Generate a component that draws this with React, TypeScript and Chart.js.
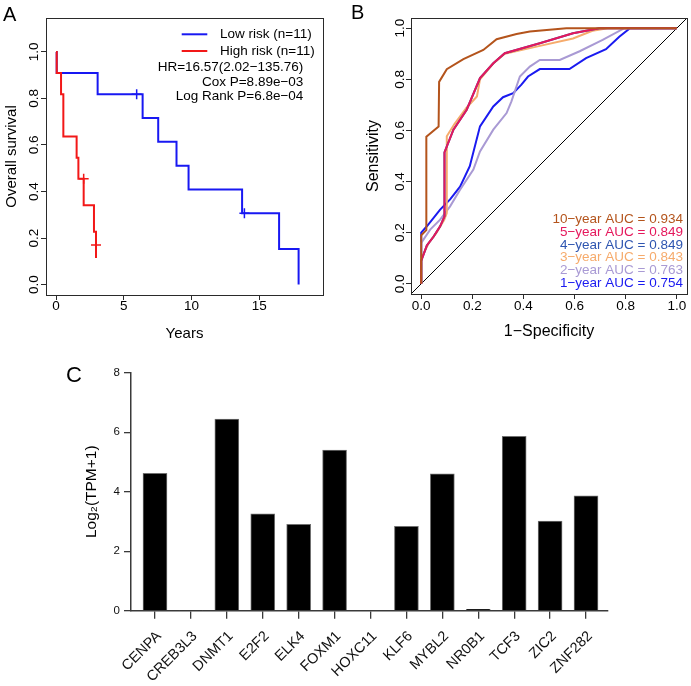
import { useEffect, useRef } from "react";
import { Chart, registerables } from "chart.js";

Chart.register(...registerables);

const FONT_FAMILY = "'Liberation Sans', Arial, Helvetica, sans-serif";
Chart.defaults.font.family = FONT_FAMILY;
Chart.defaults.color = "#000";

// ---------------- Panel A: Kaplan–Meier ----------------
const yearTicks = [0, 5, 10, 15];
const survivalTicks = [0, 0.2, 0.4, 0.6, 0.8, 1];
const lowRiskTime = [0, 0.05, 3.07, 6.39, 7.54, 8.89, 9.78, 13.73, 16.46, 17.9];
const lowRiskSurvival = [1, 0.909, 0.818, 0.716, 0.614, 0.511, 0.409, 0.307, 0.153, 0];
const lowRiskCensorTime = [5.95, 13.9];
const lowRiskCensorSurvival = [0.818, 0.307];
const highRiskTime = [0, 0.05, 0.37, 0.54, 1.52, 1.65, 2.04, 2.8, 2.95];
const highRiskSurvival = [1, 0.909, 0.818, 0.636, 0.545, 0.455, 0.341, 0.227, 0.114];
const highRiskCensorTime = [2.04, 2.95];
const highRiskCensorSurvival = [0.455, 0.17];
const kmLegend = ["Low risk (n=11)", "High risk (n=11)"];
const kmColors = ["#1818F2", "#F21818"];
const kmStats = ["HR=16.57(2.02\u2212135.76)", "Cox P=8.89e\u221203", "Log Rank P=6.8e\u221204"];

// ---------------- Panel B: ROC ----------------
const rocTicks = [0, 0.2, 0.4, 0.6, 0.8, 1];
const rocYears = [10, 5, 4, 3, 2, 1];
const rocAuc = [0.934, 0.849, 0.849, 0.843, 0.763, 0.754];
const rocColors = ["#B4541C", "#E5185C", "#2E55B0", "#F6AB6C", "#A99AD4", "#1A1AF0"];
const roc10Fpr = [0, 0, 0.02, 0.02, 0.068, 0.07, 0.1, 0.165, 0.243, 0.295, 0.373, 0.425, 0.568, 1];
const roc10Tpr = [0, 0.19, 0.21, 0.575, 0.615, 0.79, 0.84, 0.879, 0.915, 0.957, 0.977, 0.987, 1, 1];
const roc5Fpr = [0, 0, 0.022, 0.048, 0.074, 0.091, 0.091, 0.126, 0.178, 0.23, 0.282, 0.327, 0.464, 0.594, 0.697, 1];
const roc5Tpr = [0, 0.089, 0.15, 0.184, 0.225, 0.264, 0.514, 0.603, 0.681, 0.805, 0.863, 0.902, 0.941, 0.98, 1, 1];
const roc4Fpr = [0, 0, 0.022, 0.048, 0.074, 0.091, 0.091, 0.126, 0.178, 0.23, 0.282, 0.327, 0.464, 0.594, 0.697, 1];
const roc4Tpr = [0, 0.089, 0.15, 0.184, 0.225, 0.264, 0.514, 0.603, 0.681, 0.805, 0.863, 0.902, 0.941, 0.98, 1, 1];
const roc3Fpr = [0, 0, 0.03, 0.06, 0.09, 0.1, 0.1, 0.13, 0.178, 0.218, 0.23, 0.28, 0.327, 0.46, 0.594, 0.67, 0.73, 1];
const roc3Tpr = [0, 0.1, 0.16, 0.2, 0.25, 0.277, 0.577, 0.625, 0.69, 0.733, 0.8, 0.86, 0.9, 0.93, 0.96, 0.99, 1, 1];
const roc2Fpr = [0, 0, 0.035, 0.074, 0.113, 0.152, 0.204, 0.23, 0.282, 0.334, 0.353, 0.386, 0.425, 0.464, 0.542, 0.62, 0.71, 0.795, 1];
const roc2Tpr = [0, 0.16, 0.212, 0.251, 0.303, 0.368, 0.447, 0.518, 0.603, 0.668, 0.714, 0.811, 0.85, 0.876, 0.876, 0.91, 0.954, 1, 1];
const roc1Fpr = [0, 0, 0.022, 0.074, 0.113, 0.152, 0.19, 0.23, 0.282, 0.32, 0.36, 0.392, 0.418, 0.464, 0.58, 0.645, 0.723, 0.775, 0.817, 1];
const roc1Tpr = [0, 0.2, 0.225, 0.29, 0.33, 0.38, 0.46, 0.616, 0.694, 0.73, 0.746, 0.779, 0.811, 0.84, 0.84, 0.883, 0.918, 0.967, 1, 1];
const diagonal = [-0.04, 1.04];

// ---------------- Panel C: expression ----------------
const genes = ["CENPA", "CREB3L3", "DNMT1", "E2F2", "ELK4", "FOXM1", "HOXC11", "KLF6", "MYBL2", "NR0B1", "TCF3", "ZIC2", "ZNF282"];
const expression = [4.62, 0.02, 6.44, 3.26, 2.9, 5.4, 0, 2.84, 4.6, 0.05, 5.86, 3.01, 3.86];
const expressionTicks = [0, 2, 4, 6, 8];

const pts = (xs: number[], ys: number[]) => xs.map((x, i) => ({ x, y: ys[i] }));
const setTicks = (vals: number[]) => (s: any) => {
  s.ticks = vals.map((v) => ({ value: v }));
};

const boxPlugin = {
  id: "rbox",
  afterDatasetsDraw(chart: any) {
    const { ctx, chartArea: a } = chart;
    ctx.save();
    ctx.strokeStyle = "#2a2a2a";
    ctx.lineWidth = 1;
    ctx.strokeRect(Math.round(a.left) + 0.5, Math.round(a.top) + 0.5, Math.round(a.right - a.left), Math.round(a.bottom - a.top));
    ctx.restore();
  },
};

const rAxisX = (min: number, max: number, ticks: number[], fmt: (v: number) => string, height: number, title: string, titleSize: number, titlePad: number, tickPad: number) => ({
  type: "linear",
  min,
  max,
  afterBuildTicks: setTicks(ticks),
  afterFit: (s: any) => {
    s.height = height;
  },
  ticks: { callback: (v: any) => fmt(Number(v)), autoSkip: false, maxRotation: 0, font: { size: 13.5 }, padding: tickPad, color: "#000" },
  grid: { drawOnChartArea: false, tickLength: 5, color: "#2a2a2a", lineWidth: 1 },
  border: { display: false },
  title: { display: true, text: title, font: { size: titleSize }, color: "#000", padding: { top: 0, bottom: titlePad } },
});

const rAxisY = (min: number, max: number, ticks: number[], width: number, title: string, titleSize: number, titlePad: number, tickPad: number) => ({
  type: "linear",
  min,
  max,
  afterBuildTicks: setTicks(ticks),
  afterFit: (s: any) => {
    s.width = width;
  },
  ticks: { callback: (v: any) => Number(v).toFixed(1), autoSkip: false, minRotation: 90, maxRotation: 90, crossAlign: "center", font: { size: 13.5 }, padding: tickPad, color: "#000" },
  grid: { drawOnChartArea: false, tickLength: 5, color: "#2a2a2a", lineWidth: 1 },
  border: { display: false },
  title: { display: true, text: title, font: { size: titleSize }, color: "#000", padding: { top: titlePad, bottom: 0 } },
});

function kmConfig(): any {
  const annot = {
    id: "kmAnnot",
    afterDraw(chart: any) {
      const { ctx, chartArea: a } = chart;
      ctx.save();
      ctx.font = `13.5px ${FONT_FAMILY}`;
      ctx.textBaseline = "middle";
      const rows = [a.top + 16.3, a.top + 33];
      kmLegend.forEach((lbl, i) => {
        ctx.strokeStyle = kmColors[i];
        ctx.lineWidth = 2;
        ctx.beginPath();
        ctx.moveTo(a.right - 141.3, rows[i]);
        ctx.lineTo(a.right - 115.7, rows[i]);
        ctx.stroke();
        ctx.fillStyle = "#000";
        ctx.textAlign = "left";
        ctx.fillText(lbl, a.right - 103, rows[i]);
      });
      ctx.textAlign = "right";
      const statRows = [a.top + 49.7, a.top + 64.7, a.top + 78.7];
      kmStats.forEach((t, i) => ctx.fillText(t, a.right - 19.7, statRows[i]));
      ctx.restore();
    },
  };
  const censor = (data: any[], color: string) => ({
    data,
    showLine: false,
    pointStyle: "cross",
    pointRadius: 5,
    pointBorderWidth: 1.5,
    pointBorderColor: color,
    borderColor: color,
  });
  const step = (data: any[], color: string) => ({
    data,
    stepped: "before",
    borderColor: color,
    borderWidth: 2,
    pointRadius: 0,
    fill: false,
  });
  return {
    type: "line",
    data: {
      datasets: [
        censor(pts(highRiskCensorTime, highRiskCensorSurvival), kmColors[1]),
        censor(pts(lowRiskCensorTime, lowRiskCensorSurvival), kmColors[0]),
        step(pts(highRiskTime, highRiskSurvival), kmColors[1]),
        step(pts(lowRiskTime, lowRiskSurvival), kmColors[0]),
      ],
    },
    options: {
      responsive: false,
      animation: false,
      events: [],
      layout: { padding: { left: 0, top: 18, right: 17, bottom: 0 } },
      plugins: { legend: { display: false }, tooltip: { enabled: false } },
      scales: {
        x: rAxisX(-0.74, 19.7, yearTicks, (v) => String(v), 50, "Years", 15, 2.2, -2),
        y: rAxisY(-0.045, 1.146, survivalTicks, 46, "Overall survival", 15, 2.5, -2.7),
      },
    },
    plugins: [boxPlugin, annot],
  };
}

function rocConfig(): any {
  const curves = [
    pts(roc10Fpr, roc10Tpr),
    pts(roc5Fpr, roc5Tpr),
    pts(roc4Fpr, roc4Tpr),
    pts(roc3Fpr, roc3Tpr),
    pts(roc2Fpr, roc2Tpr),
    pts(roc1Fpr, roc1Tpr),
  ];
  const annot = {
    id: "rocAnnot",
    afterDraw(chart: any) {
      const { ctx, chartArea: a } = chart;
      ctx.save();
      ctx.font = `13.5px ${FONT_FAMILY}`;
      ctx.textBaseline = "middle";
      ctx.textAlign = "right";
      rocYears.forEach((yr, i) => {
        ctx.fillStyle = rocColors[i];
        ctx.fillText(`${yr}\u2212year AUC = ${rocAuc[i].toFixed(3)}`, a.right - 4, a.bottom - 74.7 + i * 12.8);
      });
      ctx.restore();
    },
  };
  return {
    type: "line",
    data: {
      datasets: [
        ...curves.map((d, i) => ({ data: d, borderColor: rocColors[i], borderWidth: 2, pointRadius: 0, fill: false })),
        { data: pts(diagonal, diagonal), borderColor: "#000", borderWidth: 1, pointRadius: 0, fill: false },
      ],
    },
    options: {
      responsive: false,
      animation: false,
      events: [],
      layout: { padding: { left: 0, top: 18, right: 4, bottom: 0 } },
      plugins: { legend: { display: false }, tooltip: { enabled: false } },
      scales: {
        x: rAxisX(-0.04, 1.04, rocTicks, (v) => v.toFixed(1), 51, "1\u2212Specificity", 16, 4, -0.5),
        y: rAxisY(-0.04, 1.04, rocTicks, 71, "Sensitivity", 16, 24.4, -3.9),
      },
    },
    plugins: [boxPlugin, annot],
  };
}

function barConfig(): any {
  return {
    type: "bar",
    data: {
      datasets: [
        {
          data: pts(genes.map((_, i) => i), expression),
          backgroundColor: "#000",
          borderColor: "#707070",
          borderWidth: 1,
          barThickness: 24,
        },
      ],
    },
    options: {
      responsive: false,
      animation: false,
      events: [],
      layout: { padding: { left: 0, top: 27.7, right: 83, bottom: 0 } },
      plugins: { legend: { display: false }, tooltip: { enabled: false } },
      scales: {
        x: {
          type: "linear",
          min: -0.668,
          max: 12.612,
          offset: false,
          afterBuildTicks: setTicks(genes.map((_, i) => i)),
          afterFit: (s: any) => {
            s.height = 75.3;
          },
          ticks: {
            callback: (v: any) => genes[Number(v)],
            autoSkip: false,
            minRotation: 45,
            maxRotation: 45,
            font: { size: 14.5 },
            padding: 9,
            labelOffset: 4,
            color: "#111",
          },
          grid: { drawOnChartArea: false, offset: false, tickLength: 8, color: "#3a3a3a", lineWidth: 1.3 },
          border: { display: true, color: "#3a3a3a", width: 1.5 },
        },
        y: {
          type: "linear",
          min: 0,
          max: 8,
          afterBuildTicks: setTicks(expressionTicks),
          afterFit: (s: any) => {
            s.width = 131;
          },
          ticks: { font: { size: 11.5 }, padding: 4, color: "#111", autoSkip: false },
          grid: { drawOnChartArea: false, tickLength: 7, color: "#3a3a3a", lineWidth: 1.3 },
          border: { display: true, color: "#3a3a3a", width: 1.5 },
          title: { display: true, text: "Log\u2082(TPM+1)", font: { size: 15.5 }, color: "#000", padding: { top: 82.2, bottom: 0 } },
        },
      },
    },
  };
}

function ChartCanvas(props: { left: number; top: number; width: number; height: number; make: () => any }) {
  const ref = useRef<HTMLCanvasElement | null>(null);
  useEffect(() => {
    const chart = new Chart(ref.current as HTMLCanvasElement, props.make());
    return () => chart.destroy();
  }, []);
  return (
    <canvas
      ref={ref}
      width={props.width}
      height={props.height}
      style={{ position: "absolute", left: props.left, top: props.top, width: props.width, height: props.height }}
    />
  );
}

const letterStyle = (left: number, top: number, size: number): any => ({
  position: "absolute",
  left,
  top,
  fontFamily: FONT_FAMILY,
  fontSize: size,
  lineHeight: `${size}px`,
  color: "#000",
});

export default function App() {
  return (
    <div style={{ position: "absolute", left: 0, top: 0, width: 691, height: 686, background: "#fff", overflow: "hidden" }}>
      <ChartCanvas left={0} top={0} width={340} height={345} make={kmConfig} />
      <ChartCanvas left={340} top={0} width={351} height={345} make={rocConfig} />
      <ChartCanvas left={0} top={345} width={691} height={341} make={barConfig} />
      <div style={letterStyle(3, 4.4, 20)}>A</div>
      <div style={letterStyle(351, 2.4, 20)}>B</div>
      <div style={letterStyle(66, 364, 22)}>C</div>
    </div>
  );
}
